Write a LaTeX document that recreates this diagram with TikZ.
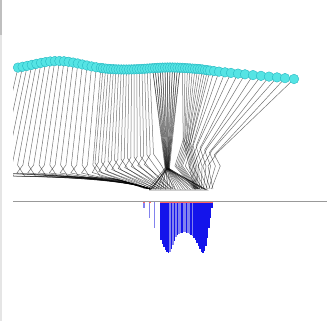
\documentclass[tikz,border=0pt]{standalone}
\definecolor{beadfill}{RGB}{85,228,228}
\definecolor{beadline}{RGB}{40,185,195}
\definecolor{barB}{RGB}{20,20,235}
\definecolor{barL}{RGB}{130,130,238}
\begin{document}
\begin{tikzpicture}[x=1pt,y=-1pt,
  string/.style={black,opacity=0.55,line width=0.5pt},
  bead/.style={fill=beadfill,draw=beadline,line width=0.4pt}]
\useasboundingbox (0,0) rectangle (327,321);
\fill[white] (0,0) rectangle (327,321);
\fill[gray!20] (0,0) rectangle (1.6,321);
\fill[gray!50] (0,0) rectangle (1.6,35);
\newcommand{\beadY}[1]{\pgfmathsetmacro\cy{70 - 9*exp(-((#1-58)/35)*((#1-58)/35)) - 2.5*exp(-((#1-170)/30)*((#1-170)/30)) + 9*max(0,(#1-200)/94)}}
\begin{scope}
\clip (13,0) rectangle (327,200);
% left strings
\foreach \i in {0,...,18}{
  \pgfmathsetmacro\cx{18+4.6*\i}\beadY{\cx}
  \pgfmathsetmacro\kx{\cx-22+0.17*(\cx-18)}
  \pgfmathsetmacro\mx{\kx+ifthenelse(mod(\i,2)==0,7,-6)}
  \pgfmathsetmacro\my{ifthenelse(mod(\i,2)==0,176,173)}
  \pgfmathsetmacro\ex{112+2*\i}
  \pgfmathsetmacro\ey{178+0.55*\i}
  \draw[string] (\cx,\cy) -- (\kx,165) -- (\mx,\my) -- (\ex,\ey) -- (150,189);
}
% middle strings A
\foreach \i in {0,...,18}{
  \pgfmathsetmacro\cx{103+2.6*\i}\beadY{\cx}
  \pgfmathsetmacro\kx{95+(\cx-103)*1.25}
  \pgfmathsetmacro\ky{163-0.5*\i}
  \pgfmathsetmacro\mx{\kx+ifthenelse(mod(\i,2)==0,7,-6)}
  \pgfmathsetmacro\ex{146+1.6*\i}
  \draw[string] (\cx,\cy) -- (\kx,\ky) -- (\mx,\ky+10) -- (\ex,189);
}
% middle strings B
\foreach \i in {0,...,11}{
  \pgfmathsetmacro\cx{152.5+2.5*\i}\beadY{\cx}
  \pgfmathsetmacro\ax{165+0.12*(\cx-152)}
  \pgfmathsetmacro\ex{148+5*\i}
  \draw[string] (\cx,\cy) -- (\ax,168) -- (\ex,189);
  \draw[string] (\cx,\cy) -- (\ax+1,169) -- (\ex+2.5,189.5);
}
% dark triangle edges
\draw[string,line width=0.9pt] (150,190) -- (167,169) -- (207,190) -- cycle;
% right strings
\foreach \cx [count=\i] in {182.5,185,187.5,190,192.5,195,197.5,200,202.5,205,207.5,210,214,219,225,231,238,245,253,261,269,277,285,294}{
  \beadY{\cx}
  \pgfmathsetmacro\t{(\cx-182)/112}
  \pgfmathsetmacro\kx{183+34*\t}
  \pgfmathsetmacro\ky{137+16*\t+3*mod(\i,2)}
  \pgfmathsetmacro\mx{\kx+ifthenelse(mod(\i,2)==0,-9,6)}
  \pgfmathsetmacro\ex{194+19*\t}
  \draw[string] (\cx,\cy) -- (\kx,\ky) -- (\mx,166) -- (\ex,189);
}
\end{scope}
% beads
\foreach \i in {0,...,18}{
  \pgfmathsetmacro\cx{18+4.6*\i}\beadY{\cx}
  \draw[bead] (\cx,\cy) circle (4.8);
}
\foreach \i in {0,...,18}{
  \pgfmathsetmacro\cx{103+2.6*\i}\beadY{\cx}
  \draw[bead] (\cx,\cy) circle (4.8);
}
\foreach \i in {0,...,11}{
  \pgfmathsetmacro\cx{152.5+2.5*\i}\beadY{\cx}
  \draw[bead] (\cx,\cy) circle (4.8);
}
\foreach \cx in {182.5,185,187.5,190,192.5,195,197.5,200,202.5,205,207.5,210,214,219,225,231,238,245,253,261,269,277,285,294}{
  \beadY{\cx}
  \draw[bead] (\cx,\cy) circle (4.8);
}
% baseline
\draw[gray!80,line width=1pt] (13,201) -- (327,201);
% bars
\foreach \x/\y/\c in {144/208/barL,149.5/218/barL,154.5/228/barL}{
  \fill[\c] (\x-0.6,202) rectangle (\x+0.6,\y);
}
\foreach \x/\y/\c in {161/240/barB,162.5/244/barB,164/247/barB,165.5/250/barB,167/252/barB,168.5/253/barB,170/252/barL,171.5/249/barB,173/245/barL,174.5/241/barB,176/237/barL,177.5/235/barB,179/234/barL,180.5/233/barL,182/233/barB,183.5/232/barL,185/232/barL,186.5/233/barB,188/233/barL,189.5/234/barL,191/235/barB,192.5/236/barL,194/238/barB,195.5/240/barB,197/243/barB,198.5/246/barB,200/249/barB,201.5/252/barB,203/253/barB,204.5/251/barB,206/246/barB,207.5/238/barB,209/228/barB,210.5/218/barB,212/208/barB}{
  \fill[\c] (\x-0.8,202) rectangle (\x+0.8,\y);
}
\draw[red!60,line width=0.8pt] (160.2,202.4) -- (212.8,202.4);
\draw[red!60,line width=0.8pt] (143,202.4) -- (145,202.4) (148.5,202.4) -- (150.5,202.4);
\end{tikzpicture}
\end{document}
